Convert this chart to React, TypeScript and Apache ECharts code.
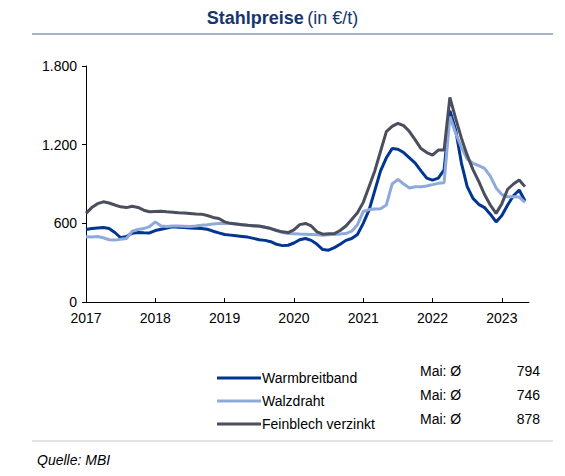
import { useEffect, useRef } from "react";
import * as echarts from "echarts";

// monthly values, Jan 2017 .. May 2023 (EUR/t)
const warmbreitband = [
  553, 560, 565, 568, 560, 530, 490, 500, 525, 530, 528, 527,
  545, 555, 565, 573, 570, 568, 565, 562, 560, 555, 540, 527,
  515, 510, 505, 500, 495, 485, 475, 470, 460, 440, 430, 433,
  450, 475, 484, 470, 440, 400, 395, 415, 440, 470, 484, 515,
  600, 700, 850, 1000, 1100, 1170, 1165, 1140, 1100, 1060, 1000, 945,
  930, 945, 1007, 1460, 1312, 1060, 880, 790, 745, 720, 670, 611,
  660, 740, 810, 854, 770,
];
const walzdraht = [
  497, 495, 500, 490, 475, 472, 478, 484, 540, 553, 560, 575,
  611, 579, 575, 579, 579, 578, 575, 580, 586, 590, 595, 598,
  599, 598, 595, 590, 585, 580, 575, 570, 560, 545, 530, 522,
  520, 518, 517, 515, 512, 510, 512, 515, 518, 522, 540, 590,
  690, 705, 710, 712, 740, 900, 935, 900, 870, 879, 879, 885,
  895, 905, 910, 1414, 1287, 1180, 1090, 1058, 1040, 1020, 960, 870,
  820, 802, 802, 800, 760,
];
const feinblech = [
  676, 720, 750, 764, 755, 740, 726, 720, 730, 721, 700, 688,
  690, 692, 688, 685, 680, 678, 675, 672, 670, 660, 645, 637,
  611, 600, 595, 590, 585, 582, 579, 570, 560, 545, 535, 530,
  550, 590, 599, 580, 535, 517, 520, 522, 545, 580, 630, 680,
  760, 879, 1000, 1150, 1300, 1340, 1363, 1345, 1300, 1236, 1170, 1140,
  1121, 1159, 1160, 1560, 1400, 1250, 1120, 1010, 920, 820, 740, 676,
  750, 860, 900, 930, 880,
];

const seriesNames = ["Warmbreitband", "Walzdraht", "Feinblech verzinkt"];
const seriesColors = ["#003591", "#8eaadb", "#4b4f5d"];
const mayAverages = [794, 746, 878];
const yearTicks = [2017, 2018, 2019, 2020, 2021, 2022, 2023];

const FONT = "Arial, 'Liberation Sans', sans-serif";

const toPoints = (values: number[]) => values.map((v, i) => [2017 + i / 12, v]);

const App = () => {
  const chartRef = useRef<HTMLDivElement>(null);

  useEffect(() => {
    document.body.style.margin = "0";
    if (!chartRef.current) return;
    const chart = echarts.init(chartRef.current, null, { renderer: "svg" });

    const allSeries = [warmbreitband, walzdraht, feinblech];

    chart.setOption({
      animation: false,
      backgroundColor: "#ffffff",
      textStyle: { fontFamily: FONT },
      grid: { left: 86, right: 36, top: 66, bottom: 174 },
      xAxis: {
        type: "value",
        min: 2017,
        max: 2017 + 76.7 / 12,
        interval: 1,
        axisLine: { lineStyle: { color: "#000", width: 1 } },
        axisTick: { inside: true, length: 4, lineStyle: { color: "#000" }, customValues: yearTicks },
        axisLabel: {
          color: "#000",
          fontSize: 14,
          margin: 9,
          customValues: yearTicks,
          formatter: (v: number) => String(Math.round(v)),
        },
        splitLine: { show: false },
      },
      yAxis: {
        type: "value",
        min: 0,
        max: 1800,
        interval: 600,
        axisLine: { show: true, lineStyle: { color: "#000", width: 1 } },
        axisTick: { show: true, length: 4, lineStyle: { color: "#000" } },
        axisLabel: {
          color: "#000",
          fontSize: 14,
          margin: 9,
          formatter: (v: number) => String(v).replace(/\B(?=(\d{3})+(?!\d))/g, "."),
        },
        splitLine: { show: false },
      },
      legend: {
        orient: "vertical",
        left: 217,
        top: 371,
        padding: 0,
        itemWidth: 44,
        itemHeight: 3,
        itemGap: 9,
        icon: "rect",
        textStyle: { color: "#000", fontSize: 14, fontFamily: FONT, padding: [0, 0, 0, -4] },
        data: seriesNames,
      },
      series: allSeries.map((values, i) => ({
        name: seriesNames[i],
        type: "line",
        data: toPoints(values),
        showSymbol: false,
        color: seriesColors[i],
        lineStyle: { width: 3, color: seriesColors[i] },
      })),
      graphic: [
        {
          type: "text",
          left: "center",
          top: 9,
          style: {
            text: "{b|Stahlpreise} {n|(in €/t)}",
            rich: {
              b: { fontSize: 18, fontWeight: "bold", fill: "#16366e", fontFamily: FONT },
              n: { fontSize: 18, fill: "#16366e", fontFamily: FONT },
            },
          },
        },
        { type: "line", shape: { x1: 32, y1: 34, x2: 553, y2: 34 }, style: { stroke: "#4e6a8e", lineWidth: 1.2 } },
        { type: "line", shape: { x1: 32, y1: 441, x2: 553, y2: 441 }, style: { stroke: "#c8c8c8", lineWidth: 1 } },
        {
          type: "text",
          x: 37,
          y: 460,
          style: { text: "Quelle: MBI", fontSize: 14, fontStyle: "italic", fill: "#000", fontFamily: FONT, verticalAlign: "middle" },
        },
        ...mayAverages.flatMap((avg, i) => [
          {
            type: "text",
            x: 420,
            y: 371 + i * 24,
            style: { text: "Mai: Ø", fontSize: 14, fill: "#000", fontFamily: FONT, verticalAlign: "middle" },
          },
          {
            type: "text",
            x: 540,
            y: 371 + i * 24,
            style: { text: String(avg), fontSize: 14, fill: "#000", fontFamily: FONT, align: "right", verticalAlign: "middle" },
          },
        ]),
      ],
    });

    return () => {
      chart.dispose();
    };
  }, []);

  return <div ref={chartRef} style={{ width: "565px", height: "476px" }} />;
};

export default App;
